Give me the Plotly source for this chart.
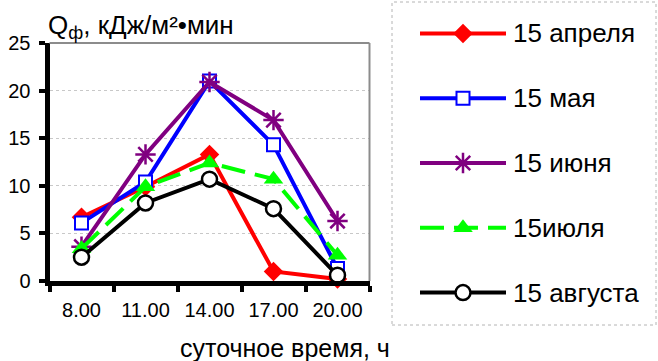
import plotly.graph_objects as go

# ---- data ----
times = ["8.00", "11.00", "14.00", "17.00", "20.00"]
series_names = ["15 апреля", "15 мая", "15 июня", "15июля", "15 августа"]
apr = [6.7, 9.9, 13.3, 1.0, 0.2]
may = [6.1, 10.4, 21.0, 14.3, 1.3]
jun = [3.6, 13.3, 20.9, 16.9, 6.3]
jul = [3.4, 9.9, 12.4, 10.7, 2.7]
aug = [2.5, 8.2, 10.7, 7.6, 0.6]
y_ticks = [0, 5, 10, 15, 20, 25]

# ---- styles ----
W, H = 658, 361
FONT = "Liberation Sans, Arial, sans-serif"
styles = [
    dict(line=dict(color="#FF0000", width=4),
         marker=dict(symbol="diamond", size=15, color="#FF0000")),
    dict(line=dict(color="#0000FF", width=4),
         marker=dict(symbol="square", size=13, color="white",
                     line=dict(color="#0000FF", width=2))),
    dict(line=dict(color="#800080", width=4),
         marker=dict(symbol="asterisk-open", size=17, color="#800080",
                     line=dict(color="#800080", width=2.5))),
    dict(line=dict(color="#00FF00", width=4, dash="24px,10px"),
         marker=dict(symbol="triangle-up", size=17, color="#00FF00")),
    dict(line=dict(color="#000000", width=4),
         marker=dict(symbol="circle", size=15, color="white",
                     line=dict(color="#000000", width=2.5))),
]
all_series = [apr, may, jun, jul, aug]

def px_x(p):
    return p / W

def px_y(p):
    return (H - p) / H

fig = go.Figure()
for name, vals, st in zip(series_names, all_series, styles):
    fig.add_trace(go.Scatter(x=times, y=vals, mode="lines+markers", name=name,
                             showlegend=False, cliponaxis=False,
                             xaxis="x", yaxis="y", **st))

# custom legend drawn on an auxiliary axis (series index on y)
for i, (name, st) in enumerate(zip(series_names, styles)):
    fig.add_trace(go.Scatter(x=[0, 0.5, 1], y=[i, i, i], mode="lines",
                             showlegend=False, xaxis="x2", yaxis="y2",
                             line=st["line"], hoverinfo="skip"))
    fig.add_trace(go.Scatter(x=[0.5], y=[i], mode="markers",
                             showlegend=False, xaxis="x2", yaxis="y2",
                             marker=st["marker"], hoverinfo="skip"))

annotations = []
for i, name in enumerate(series_names):
    annotations.append(dict(x=1, y=i, xref="x2", yref="y2", text=name,
                            showarrow=False, xanchor="left", yanchor="middle",
                            xshift=5, font=dict(size=26, color="black", family=FONT)))
annotations.append(dict(x=px_x(46), y=px_y(27), xref="paper", yref="paper",
                        text="Q<sub>ф</sub>, кДж/м²•мин", showarrow=False,
                        xanchor="left", yanchor="middle",
                        font=dict(size=26, color="black", family=FONT)))
annotations.append(dict(x=px_x(285), y=px_y(348), xref="paper", yref="paper",
                        text="суточное время, ч", showarrow=False,
                        xanchor="center", yanchor="middle",
                        font=dict(size=25, color="black", family=FONT)))

shapes = [
    dict(type="line", xref="x domain", yref="y domain", x0=0, x1=1, y0=1, y1=1,
         line=dict(color="#8c8c8c", width=2)),
    dict(type="line", xref="x domain", yref="y domain", x0=1, x1=1, y0=0, y1=1,
         line=dict(color="#8c8c8c", width=2)),
    dict(type="rect", xref="paper", yref="paper", x0=px_x(392), x1=px_x(656),
         y0=px_y(325), y1=px_y(2), line=dict(color="#b4b4b4", width=1, dash="dot"),
         fillcolor="rgba(0,0,0,0)"),
]

fig.update_layout(
    template="none",
    width=W, height=H,
    margin=dict(l=0, r=0, t=0, b=0, pad=0),
    paper_bgcolor="white", plot_bgcolor="white",
    font=dict(family=FONT, color="black"),
    showlegend=False,
    xaxis=dict(domain=[px_x(49.5), px_x(369.5)], type="category",
               range=[-0.5, 4.5], tickson="boundaries", automargin=False,
               ticks="outside", ticklen=6, tickwidth=4, tickcolor="black",
               showline=True, linecolor="black", linewidth=5,
               showgrid=False, zeroline=False, anchor="y",
               tickfont=dict(size=20, color="black"), ticklabelstandoff=7),
    yaxis=dict(domain=[px_y(281), px_y(43)], range=[0, 25], tickvals=y_ticks,
               automargin=False,
               ticks="outside", ticklen=6, tickwidth=4, tickcolor="black",
               showline=True, linecolor="black", linewidth=5,
               showgrid=True, gridcolor="#c8c8c8", griddash="dot", gridwidth=1,
               zeroline=False, anchor="x",
               tickfont=dict(size=20, color="black"), ticklabelstandoff=4),
    xaxis2=dict(domain=[px_x(420), px_x(506)], range=[0, 1], visible=False,
                anchor="y2", fixedrange=True, automargin=False),
    yaxis2=dict(domain=[px_y(325), px_y(1)], range=[4.5, -0.5], visible=False,
                anchor="x2", fixedrange=True, automargin=False),
    annotations=annotations,
    shapes=shapes,
)

fig.write_html("out.html")
